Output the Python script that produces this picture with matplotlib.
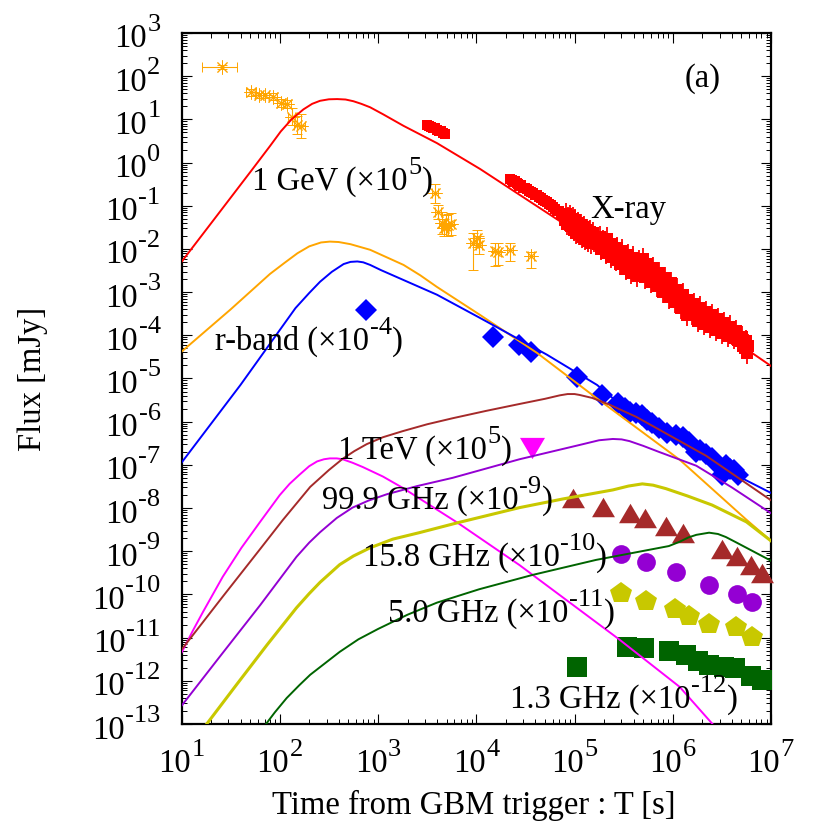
import matplotlib
matplotlib.use("Agg")
import matplotlib.pyplot as plt
import numpy as np
from matplotlib.ticker import LogLocator, NullFormatter

plt.rcParams['font.family'] = ['Liberation Serif', 'DejaVu Serif']

# all values below are log10(T [s]) and log10(F [mJy])
red_t = [1.0, 1.33, 1.72, 1.9, 2.01, 2.12, 2.24, 2.33, 2.41, 2.5, 2.585, 2.67, 2.75, 2.83, 2.92, 3.05, 3.26, 3.60, 4.04, 4.88, 7.0]
red_f = [-2.30, -1.32, -0.16, 0.38, 0.72, 1.0, 1.23, 1.36, 1.43, 1.465, 1.47, 1.46, 1.42, 1.36, 1.28, 1.12, 0.85, 0.45, -0.15, -1.40, -4.71]

orange_t = [1.0, 1.50, 1.90, 2.05, 2.18, 2.3, 2.42, 2.51, 2.6, 2.72, 2.92, 3.26, 3.43, 3.60, 4.04, 4.62, 5.21, 6.07, 6.75, 7.0]
orange_f = [-4.38, -3.40, -2.58, -2.32, -2.10, -1.94, -1.85, -1.83, -1.84, -1.89, -2.02, -2.37, -2.61, -2.88, -3.53, -4.41, -5.43, -6.88, -8.27, -8.76]

blue_t = [1.0, 1.60, 2.16, 2.3, 2.41, 2.53, 2.65, 2.72, 2.79, 2.85, 2.92, 3.03, 3.26, 3.60, 4.04, 4.72, 5.23, 5.59, 6.35, 6.68, 7.0]
blue_f = [-6.95, -5.15, -3.37, -3.02, -2.76, -2.53, -2.35, -2.30, -2.29, -2.31, -2.37, -2.49, -2.72, -3.06, -3.60, -4.45, -5.15, -5.84, -6.84, -7.28, -7.65]

brown_t = [1.0, 1.42, 1.80, 2.03, 2.31, 2.5, 2.64, 2.76, 2.885, 3.05, 3.25, 3.5, 3.76, 4.1, 4.44, 4.7, 4.85, 4.93, 5.0, 5.05, 5.18, 5.35, 5.63, 6.34, 7.0]
brown_f = [-11.28, -10.05, -8.95, -8.28, -7.51, -7.12, -6.86, -6.68, -6.52, -6.36, -6.22, -6.06, -5.92, -5.75, -5.59, -5.47, -5.39, -5.36, -5.36, -5.38, -5.45, -5.6, -5.89, -6.79, -7.82]

purple_t = [1.0, 1.39, 1.80, 2.17, 2.3, 2.41, 2.58, 2.74, 2.9, 3.09, 3.4, 3.76, 4.44, 5.05, 5.25, 5.39, 5.48, 5.56, 5.7, 5.86, 6.24, 6.6, 7.0]
purple_f = [-12.58, -11.44, -10.25, -9.13, -8.80, -8.56, -8.23, -7.99, -7.83, -7.68, -7.49, -7.30, -6.87, -6.54, -6.43, -6.40, -6.41, -6.45, -6.56, -6.70, -7.02, -7.52, -8.12]

olive_t = [1.25, 1.56, 1.87, 2.17, 2.3, 2.41, 2.61, 2.75, 2.92, 3.15, 3.42, 3.81, 4.44, 4.88, 5.39, 5.55, 5.69, 5.8, 5.93, 6.15, 6.40, 6.75, 7.0]
olive_f = [-13.02, -12.09, -11.17, -10.31, -9.98, -9.72, -9.31, -9.11, -8.92, -8.72, -8.57, -8.34, -7.99, -7.79, -7.58, -7.49, -7.44, -7.47, -7.55, -7.72, -7.93, -8.32, -8.76]

green_t = [1.85, 1.95, 2.07, 2.2, 2.31, 2.61, 2.8, 3.0, 3.3, 3.60, 4.03, 4.57, 5.22, 5.96, 6.07, 6.16, 6.24, 6.37, 6.46, 6.54, 6.65, 6.75, 7.0]
green_f = [-13.03, -12.73, -12.40, -12.10, -11.86, -11.33, -11.04, -10.80, -10.47, -10.19, -9.88, -9.55, -9.20, -8.88, -8.78, -8.68, -8.62, -8.57, -8.60, -8.67, -8.80, -8.92, -9.22]

magenta_t = [1.0, 1.05, 1.12, 1.22, 1.42, 1.61, 1.80, 2.0, 2.1, 2.20, 2.3, 2.38, 2.45, 2.51, 2.58, 2.64, 2.74, 2.845, 3.05, 3.25, 3.81, 4.44, 5.46, 6.07, 6.42]
magenta_f = [-11.35, -11.13, -10.82, -10.40, -9.59, -8.92, -8.32, -7.70, -7.44, -7.23, -7.03, -6.92, -6.87, -6.85, -6.85, -6.87, -6.95, -7.05, -7.27, -7.53, -8.34, -9.32, -11.05, -12.14, -13.04]

# optical points, x and y centre, y up/down error
optical_t = [1.41, 1.71, 1.79, 1.85, 1.93, 2.01, 2.07, 2.12, 2.18, 2.22,
             3.58, 3.61, 3.65, 3.67, 3.69, 3.71, 3.74,
             3.97, 4.01, 4.03, 4.19, 4.22, 4.34, 4.56]
optical_f = [2.21, 1.63, 1.56, 1.56, 1.52, 1.38, 1.36, 1.06, 0.87, 0.85,
             -0.70, -1.14, -1.40, -1.51, -1.46, -1.44, -1.42,
             -1.86, -1.75, -1.91, -2.05, -2.07, -2.02, -2.16]
optical_dn = [0.05, 0.08, 0.06, 0.06, 0.08, 0.10, 0.10, 0.20, 0.20, 0.28,
              0.24, 0.16, 0.25, 0.20, 0.25, 0.25, 0.25,
              0.63, 0.20, 0.20, 0.34, 0.30, 0.26, 0.28]
optical_up = [0.05, 0.08, 0.06, 0.06, 0.08, 0.10, 0.10, 0.20, 0.20, 0.28,
              0.21, 0.16, 0.25, 0.20, 0.25, 0.25, 0.25,
              0.23, 0.20, 0.20, 0.19, 0.20, 0.16, 0.09]
optical_xlo = [0.20, 0.05, 0.04, 0.04, 0.04, 0.04, 0.04, 0.04, 0.04, 0.04,
               0.03, 0.03, 0.03, 0.03, 0.03, 0.03, 0.03,
               0.03, 0.03, 0.03, 0.03, 0.03, 0.03, 0.03]
optical_xhi = [0.15, 0.05, 0.04, 0.04, 0.04, 0.04, 0.04, 0.04, 0.04, 0.04,
               0.03, 0.03, 0.03, 0.03, 0.03, 0.03, 0.03,
               0.03, 0.03, 0.03, 0.03, 0.03, 0.03, 0.03]

xray_early_t = [3.50, 3.52, 3.54, 3.56, 3.58, 3.60, 3.62, 3.64, 3.66, 3.68]
xray_early_f = [0.87, 0.85, 0.83, 0.81, 0.79, 0.76, 0.74, 0.72, 0.69, 0.66]

xray_mid_t = [4.34, 4.36, 4.37, 4.39, 4.41, 4.43, 4.44, 4.46, 4.48, 4.50, 4.52, 4.54, 4.56, 4.58, 4.60,
              4.62, 4.64, 4.66, 4.68, 4.70, 4.72, 4.74, 4.76, 4.78, 4.80, 4.82, 4.84, 4.86, 4.88]
xray_mid_f = [-0.38, -0.40, -0.44, -0.43, -0.47, -0.50, -0.54, -0.53, -0.58, -0.59, -0.62, -0.66, -0.68, -0.70, -0.74,
              -0.76, -0.79, -0.82, -0.86, -0.88, -0.92, -0.96, -0.98, -1.04, -1.08, -1.12, -1.12, -1.22, -1.16]

xray_late_t = [4.90, 4.91, 4.92, 4.93, 4.94, 4.95, 4.96, 4.97, 4.98, 4.99, 5.00, 5.01, 5.02, 5.03, 5.04, 5.05,
               5.06, 5.07, 5.08, 5.09, 5.10, 5.11, 5.12, 5.13, 5.14, 5.15, 5.16, 5.17, 5.18, 5.19, 5.20,
               5.24, 5.26, 5.27, 5.29, 5.30, 5.32, 5.33, 5.35, 5.37, 5.38, 5.40, 5.42, 5.43, 5.45, 5.46, 5.48,
               5.50, 5.52, 5.54, 5.56, 5.58, 5.60, 5.62, 5.64, 5.66, 5.68, 5.70, 5.72, 5.74, 5.76, 5.78, 5.80,
               5.82, 5.84, 5.86, 5.88, 5.90, 5.92, 5.94, 5.96, 5.98, 6.00, 6.02, 6.04, 6.06, 6.08, 6.10, 6.12,
               6.14, 6.16, 6.18, 6.20, 6.22, 6.24, 6.26, 6.28, 6.30, 6.32, 6.34, 6.36, 6.38, 6.40, 6.42, 6.44,
               6.46, 6.48, 6.50, 6.52, 6.54, 6.56, 6.58, 6.60, 6.62, 6.64, 6.66, 6.68, 6.70, 6.72, 6.74, 6.75,
               6.76, 6.77]
xray_late_f = [-1.32, -1.20, -1.42, -1.28, -1.36, -1.24, -1.48, -1.38, -1.30, -1.56, -1.44, -1.34, -1.62, -1.50, -1.40, -1.66,
               -1.56, -1.44, -1.72, -1.60, -1.50, -1.76, -1.64, -1.56, -1.82, -1.70, -1.60, -1.86, -1.74, -1.64, -1.80,
               -1.88, -1.72, -2.00, -1.82, -1.92, -2.10, -1.76, -2.00, -2.18, -1.88, -2.06, -2.26, -1.98, -2.14, -2.34, -2.04,
               -2.24, -2.46, -2.14, -2.32, -2.56, -2.20, -2.42, -2.62, -2.28, -2.50, -2.24, -2.66, -2.36, -2.58, -2.76, -2.44,
               -2.68, -2.86, -2.56, -2.80, -3.00, -2.68, -2.92, -3.12, -2.80, -3.02, -3.22, -2.94, -3.14, -3.36, -3.06, -3.26,
               -3.52, -3.18, -3.38, -3.50, -3.28, -3.48, -3.66, -3.36, -3.56, -3.74, -3.46, -3.64, -3.80, -3.54, -3.72, -3.88,
               -3.62, -3.80, -3.94, -3.72, -3.88, -4.02, -3.80, -3.96, -4.06, -3.90, -4.10, -4.14, -4.04, -4.24, -4.30, -4.14,
               -4.40, -4.24]

diamond_t = [2.875, 4.166, 4.44, 4.56, 5.03, 5.28, 5.44, 5.51, 5.56, 5.63, 5.69, 5.74, 5.79, 5.86, 5.94, 6.03,
             6.10, 6.17, 6.24, 6.28, 6.34, 6.40, 6.45, 6.50, 6.54, 6.58, 6.62, 6.66]
diamond_f = [-3.41, -4.04, -4.22, -4.38, -4.96, -5.38, -5.57, -5.68, -5.77, -5.79, -5.84, -5.96, -6.03, -6.14, -6.26, -6.31,
             -6.35, -6.47, -6.70, -6.65, -6.75, -6.84, -6.98, -7.23, -7.00, -7.10, -7.12, -7.23]

tev_t = [4.57]
tev_f = [-6.61]

tri_t = [4.98, 5.29, 5.56, 5.72, 5.93, 6.10, 6.50, 6.65, 6.80, 6.91]
tri_f = [-7.76, -7.97, -8.11, -8.23, -8.41, -8.57, -8.94, -9.11, -9.31, -9.50]

circ_t = [5.47, 5.73, 6.03, 6.37, 6.65, 6.81]
circ_f = [-9.06, -9.25, -9.48, -9.78, -9.99, -10.17]

pent_t = [5.47, 5.73, 6.02, 6.17, 6.37, 6.64, 6.81]
pent_f = [-9.96, -10.15, -10.33, -10.50, -10.68, -10.75, -10.98]

square_t = [5.03, 5.53, 5.71, 5.96, 6.13, 6.26, 6.37, 6.52, 6.63, 6.80, 6.91]
square_f = [-11.68, -11.21, -11.24, -11.31, -11.40, -11.54, -11.63, -11.68, -11.70, -11.88, -11.97]

xpowers = [1, 2, 3, 4, 5, 6, 7]
ypowers = list(range(-13, 4))

FONT = 23.5
EXP_FONT = 19
EXP_RISE = 16.5


def lg(values):
    return 10.0 ** np.array(values)


def xray(ax, t, f, dy, dx, ms):
    t = np.array(t)
    f = np.array(f)
    ax.errorbar(10.0 ** t, 10.0 ** f,
                yerr=[10.0 ** f - 10.0 ** (f - dy), 10.0 ** (f + dy) - 10.0 ** f],
                xerr=[10.0 ** t - 10.0 ** (t - dx), 10.0 ** (t + dx) - 10.0 ** t],
                ls='none', color='#ff0000', ecolor='#ff0000', marker='s', ms=ms, mew=0,
                elinewidth=1.3, capsize=3.6, capthick=1.0, zorder=2)


fig = plt.figure(figsize=(8.3, 8.3), dpi=100)
ax = fig.add_axes([181.5 / 830, 1 - 724 / 830, (771 - 181.5) / 830, (724 - 33) / 830])
ax.set_xscale('log')
ax.set_yscale('log')
ax.set_xlim(1e1, 1e7)
ax.set_ylim(1e-13, 1e3)
renderer = fig.canvas.get_renderer()


def power_text(px, py, head, power, tail='', ha='left'):
    # gnuplot style label: big head, raised exponent, optional tail; px, py in picture pixels
    parts = [(head, FONT, 0), (power, EXP_FONT, EXP_RISE)]
    if tail:
        parts.append((tail, FONT, 0))
    texts = [fig.text(0, 1 - (py - rise) / 830, s, fontsize=size, ha='left', va='baseline', zorder=6)
             for s, size, rise in parts]
    widths = [t.get_window_extent(renderer).width + 0.5 for t in texts]
    x = px
    if ha == 'right':
        x = px - sum(widths)
    elif ha == 'center':
        x = px - sum(widths) / 2
    for t, w in zip(texts, widths):
        t.set_x(x / 830)
        x += w


# data points go under the model curves
t = np.array(optical_t)
f = np.array(optical_f)
ax.errorbar(10.0 ** t, 10.0 ** f,
            yerr=[10.0 ** f - 10.0 ** (f - np.array(optical_dn)), 10.0 ** (f + np.array(optical_up)) - 10.0 ** f],
            xerr=[10.0 ** t - 10.0 ** (t - np.array(optical_xlo)), 10.0 ** (t + np.array(optical_xhi)) - 10.0 ** t],
            ls='none', color='#ffa500', marker=(8, 2, 0), ms=10, mew=0.7, elinewidth=0.8,
            capsize=3.5, capthick=0.8, zorder=2)

xray(ax, xray_early_t, xray_early_f, 0.06, 0.03, 7)
xray(ax, xray_mid_t, xray_mid_f, 0.11, 0.04, 7)
xray(ax, xray_late_t, xray_late_f, 0.26, 0.05, 8)

tri_up = [(-1, -0.85), (1, -0.85), (0, 0.85)]
tri_dn = [(-1, 0.85), (1, 0.85), (0, -0.85)]
ax.plot(lg(diamond_t), lg(diamond_f), ls='none', marker='D', color='#0000ff', ms=11, mew=0, zorder=3, clip_on=False)
ax.plot(lg(tev_t), lg(tev_f), ls='none', marker=tri_dn, color='#ff00ff', ms=18, mew=0, zorder=3, clip_on=False)
ax.plot(lg(tri_t), lg(tri_f), ls='none', marker=tri_up, color='#a52a2a', ms=16.5, mew=0, zorder=3, clip_on=False)
ax.plot(lg(circ_t), lg(circ_f), ls='none', marker='o', color='#9400d3', ms=13.5, mew=0, zorder=3, clip_on=False)
ax.plot(lg(pent_t), lg(pent_f), ls='none', marker='p', color='#c8c800', ms=16, mew=0, zorder=3, clip_on=False)
ax.plot(lg(square_t), lg(square_f), ls='none', marker='s', color='#006400', ms=15, mew=0, zorder=3, clip_on=False)

ax.plot(lg(red_t), lg(red_f), color='#ff0000', lw=1.4, zorder=4)
ax.plot(lg(orange_t), lg(orange_f), color='#ffa500', lw=1.4, zorder=4)
ax.plot(lg(blue_t), lg(blue_f), color='#0000ff', lw=1.4, zorder=4)
ax.plot(lg(magenta_t), lg(magenta_f), color='#ff00ff', lw=1.4, zorder=4)
ax.plot(lg(brown_t), lg(brown_f), color='#a52a2a', lw=1.4, zorder=4)
ax.plot(lg(purple_t), lg(purple_f), color='#9400d3', lw=1.4, zorder=4)
ax.plot(lg(olive_t), lg(olive_f), color='#c8c800', lw=2.2, zorder=4)
ax.plot(lg(green_t), lg(green_f), color='#006400', lw=1.4, zorder=4)

ax.set_xticks([10.0 ** p for p in xpowers])
ax.set_yticks([10.0 ** p for p in ypowers])
ax.xaxis.set_minor_locator(LogLocator(base=10, subs=np.arange(2, 10), numticks=20))
ax.yaxis.set_minor_locator(LogLocator(base=10, subs=np.arange(2, 10), numticks=40))
ax.xaxis.set_major_formatter(NullFormatter())
ax.yaxis.set_major_formatter(NullFormatter())
ax.xaxis.set_minor_formatter(NullFormatter())
ax.yaxis.set_minor_formatter(NullFormatter())
ax.tick_params(which='major', direction='in', top=True, right=True, length=7.5, width=0.8)
ax.tick_params(which='minor', direction='in', top=True, right=True, length=3.7, width=0.7)
for side in ax.spines.values():
    side.set_linewidth(1.6)

# tick labels follow the axis scales
for p in xpowers:
    px = ax.transData.transform((10.0 ** p, 1e-13))[0]
    power_text(px, 772, '10', str(p), ha='center')
for p in ypowers:
    py = 830 - ax.transData.transform((10.0, 10.0 ** p))[1]
    power_text(161, py + 14.5, '10', str(p), ha='right')

fig.text(33 / 830, 1 - 379 / 830, 'Flux [mJy]', rotation=90, fontsize=FONT, ha='center', va='center')
fig.text(474 / 830, 1 - 805 / 830, 'Time from GBM trigger : T [s]', fontsize=FONT, ha='center', va='center')
fig.text(685 / 830, 1 - 87 / 830, '(a)', fontsize=FONT, ha='left', va='baseline')
fig.text(590 / 830, 1 - 218 / 830, 'X-ray', fontsize=FONT, ha='left', va='baseline')

power_text(252, 190, '1 GeV (×10', '5', ')')
power_text(215, 350, 'r-band (×10', '-4', ')')
power_text(338, 459, '1 TeV (×10', '5', ')')
power_text(322, 509, '99.9 GHz (×10', '-9', ')')
power_text(363, 566, '15.8 GHz (×10', '-10', ')')
power_text(388, 622, '5.0 GHz (×10', '-11', ')')
power_text(510, 708, '1.3 GHz (×10', '-12', ')')

fig.savefig('out.png', dpi=100)
